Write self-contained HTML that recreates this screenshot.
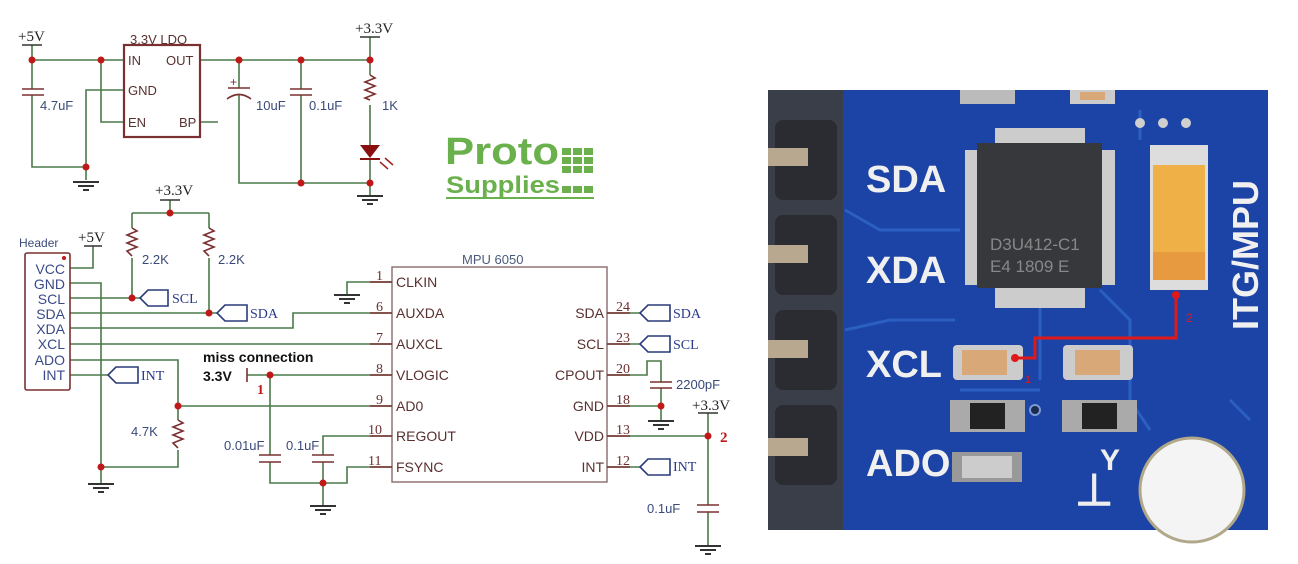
<!DOCTYPE html>
<html><head><meta charset="utf-8"><style>
html,body{margin:0;padding:0;background:#fff;width:1298px;height:564px;overflow:hidden}
svg{display:block}
</style></head><body>
<svg width="1298" height="564" viewBox="0 0 1298 564" xmlns="http://www.w3.org/2000/svg" font-family="Liberation Sans, sans-serif">
<defs>
<g id="gnd"><line x1="-13" y1="0" x2="13" y2="0" stroke="#333" stroke-width="2"/><line x1="-8" y1="4" x2="8" y2="4" stroke="#333" stroke-width="2"/><line x1="-3" y1="8" x2="3" y2="8" stroke="#333" stroke-width="2"/></g>
</defs>
<g fill="none" stroke="#4a7a4a" stroke-width="1.6">
<path d="M32 45V89M32 95V167H86M86 167V180M124 90H86V167M32 60H124M101 60V122H124M200 122H218"/>
<path d="M200 60H370M370 37V75M370 105V145M370 160V195M239 60V88M239 95V183H370M301 60V89M301 95V183"/>
<path d="M93 246V268H70M70 283H101V483M70 298H140M70 313H217M70 328H293V313H392M70 344H392M70 360H178V420M178 450V467H101M70 375H108"/>
<path d="M170 200V213M132 213H209M132 213V228M209 213V228M132 258V298M209 258V313M178 406H392"/>
<path d="M247 375H392M270 375V455M270 462V483H323M392 436H323V455M323 462V505M392 467H347V483H323M392 282H347V294"/>
<path d="M607 313H640M607 344H640M607 467H640M607 375H647V361H661V382M661 388V420M607 406H661M607 436H708M708 413V505M708 512V545"/>
</g>
<g fill="none" stroke="#7a3030" stroke-width="1.6">
<path d="M370 75l5 3-10 4 10 4-10 4 10 4-10 4 5 2"/>
<path d="M132 228l5 3-10 4 10 4-10 4 10 4-10 4 5 5"/>
<path d="M209 228l5 3-10 4 10 4-10 4 10 4-10 4 5 5"/>
<path d="M178 420l5 3-10 4 10 4-10 4 10 4-10 4 5 5"/>
<path d="M22 89H44M22 95H44M290 89H312M290 95H312M228 88H250M227 99Q239 90 251 99M259 455H281M259 462H281M312 455H334M312 462H334M650 382H672M650 388H672M697 505H719M697 512H719"/>
<path d="M247 368V382"/>
<rect x="124" y="45" width="76" height="92" stroke-width="2.2"/>
<rect x="392" y="267" width="215" height="215" stroke="#8a6a6a" stroke-width="1.4"/>
<rect x="25" y="253" width="45" height="137" rx="2" stroke-width="1.6"/>
<path d="M370 282H392M370 313H392M370 344H392M370 375H392M370 406H392M370 436H392M370 467H392M607 313H630M607 344H630M607 375H630M607 406H630M607 436H630M607 467H630"/>
</g>
<g stroke="#333" stroke-width="1.6">
<line x1="22" y1="45" x2="42" y2="45"/><line x1="360" y1="37" x2="380" y2="37"/><line x1="160" y1="200" x2="180" y2="200"/><line x1="84" y1="246" x2="102" y2="246"/><line x1="698" y1="413" x2="718" y2="413"/>
</g>
<text x="230" y="86" font-size="12" fill="#7a3030">+</text>
<polygon points="360,145 380,145 370,158" fill="#8a1010"/>
<line x1="360" y1="159" x2="380" y2="159" stroke="#8a1010" stroke-width="2"/>
<path d="M380 162l8 7M385 158l8 7" stroke="#a02020" stroke-width="1.5"/>
<use href="#gnd" x="86" y="182"/><use href="#gnd" x="370" y="196"/><use href="#gnd" x="101" y="484"/><use href="#gnd" x="347" y="295"/><use href="#gnd" x="323" y="506"/><use href="#gnd" x="661" y="421"/><use href="#gnd" x="708" y="546"/>
<g fill="#fff" stroke="#2a3a7a" stroke-width="1.6">
<path d="M168 290H148L140 298L148 306H168Z"/>
<path d="M247 305H225L217 313L225 321H247Z"/>
<path d="M138 367H116L108 375L116 383H138Z"/>
<path d="M670 305H648L640 313L648 321H670Z"/>
<path d="M670 336H648L640 344L648 352H670Z"/>
<path d="M670 459H648L640 467L648 475H670Z"/>
</g>
<g fill="#c01818">
<circle cx="32" cy="60" r="3.5"/><circle cx="101" cy="60" r="3.5"/><circle cx="239" cy="60" r="3.5"/><circle cx="301" cy="60" r="3.5"/><circle cx="370" cy="60" r="3.5"/><circle cx="86" cy="167" r="3.5"/><circle cx="301" cy="183" r="3.5"/><circle cx="370" cy="183" r="3.5"/>
<circle cx="170" cy="213" r="3.5"/><circle cx="132" cy="298" r="3.5"/><circle cx="209" cy="313" r="3.5"/><circle cx="178" cy="406" r="3.5"/><circle cx="101" cy="467" r="3.5"/><circle cx="270" cy="375" r="3.5"/><circle cx="323" cy="483" r="3.5"/><circle cx="661" cy="406" r="3.5"/><circle cx="708" cy="436" r="3.5"/><circle cx="64" cy="258" r="2"/>
</g>
<g font-family="Liberation Serif, serif" font-size="15" fill="#222">
<text x="18" y="41">+5V</text><text x="355" y="33">+3.3V</text><text x="155" y="195">+3.3V</text><text x="78" y="242">+5V</text><text x="692" y="410">+3.3V</text>
</g>
<g font-size="13" fill="#3a4a7a">
<text x="130" y="44" fill="#5a3030">3.3V LDO</text>
<text x="128" y="65" fill="#5a3030">IN</text><text x="166" y="65" fill="#5a3030">OUT</text><text x="128" y="95" fill="#5a3030">GND</text><text x="128" y="127" fill="#5a3030">EN</text><text x="179" y="127" fill="#5a3030">BP</text>
<text x="40" y="110">4.7uF</text><text x="256" y="110">10uF</text><text x="309" y="110">0.1uF</text><text x="382" y="110">1K</text>
<text x="19" y="247" font-size="12">Header</text>
<text x="142" y="264">2.2K</text><text x="218" y="264">2.2K</text>
<text x="131" y="436">4.7K</text><text x="224" y="450">0.01uF</text><text x="286" y="450">0.1uF</text><text x="676" y="389">2200pF</text><text x="647" y="513">0.1uF</text>
<text x="462" y="264" fill="#4a5a7a">MPU 6050</text>
</g>
<g font-size="14" fill="#3a4a8a" text-anchor="end">
<text x="65" y="274">VCC</text><text x="65" y="289">GND</text><text x="65" y="304">SCL</text><text x="65" y="319">SDA</text><text x="65" y="334">XDA</text><text x="65" y="349">XCL</text><text x="65" y="365">ADO</text><text x="65" y="380">INT</text>
</g>
<g font-family="Liberation Serif, serif" font-size="14" fill="#2a3a8a">
<text x="172" y="303">SCL</text><text x="250" y="318">SDA</text><text x="141" y="380">INT</text><text x="673" y="318">SDA</text><text x="673" y="349">SCL</text><text x="673" y="471">INT</text>
</g>
<g font-size="14" fill="#5a3030">
<text x="396" y="287">CLKIN</text><text x="396" y="318">AUXDA</text><text x="396" y="349">AUXCL</text><text x="396" y="380">VLOGIC</text><text x="396" y="411">AD0</text><text x="396" y="441">REGOUT</text><text x="396" y="472">FSYNC</text>
<g text-anchor="end"><text x="604" y="318">SDA</text><text x="604" y="349">SCL</text><text x="604" y="380">CPOUT</text><text x="604" y="411">GND</text><text x="604" y="441">VDD</text><text x="604" y="472">INT</text></g>
</g>
<g font-family="Liberation Serif, serif" font-size="14" fill="#6a3030">
<text x="376" y="280">1</text><text x="376" y="311">6</text><text x="376" y="342">7</text><text x="376" y="373">8</text><text x="376" y="404">9</text><text x="368" y="434">10</text><text x="368" y="465">11</text>
<text x="616" y="311">24</text><text x="616" y="342">23</text><text x="616" y="373">20</text><text x="616" y="404">18</text><text x="616" y="434">13</text><text x="616" y="465">12</text>
</g>
<text x="203" y="362" font-size="14" font-weight="bold" fill="#111">miss connection</text>
<text x="203" y="381" font-size="14" font-weight="bold" fill="#111">3.3V</text>
<text x="257" y="394" font-family="Liberation Serif, serif" font-size="14" font-weight="bold" fill="#c01818">1</text>
<text x="720" y="442" font-family="Liberation Serif, serif" font-size="15" font-weight="bold" fill="#c01818">2</text>
<!-- logo -->
<text x="445" y="164" font-size="38" font-weight="bold" fill="#6ab04c" textLength="114" lengthAdjust="spacingAndGlyphs">Proto</text>
<text x="446" y="193" font-size="24" font-weight="bold" fill="#6ab04c" textLength="114" lengthAdjust="spacingAndGlyphs">Supplies</text>
<g fill="#6ab04c">
<rect x="562" y="148" width="9" height="7"/><rect x="573" y="148" width="9" height="7"/><rect x="584" y="148" width="9" height="7"/>
<rect x="562" y="157" width="9" height="7"/><rect x="573" y="157" width="9" height="7"/><rect x="584" y="157" width="9" height="7"/>
<rect x="562" y="166" width="9" height="7"/><rect x="573" y="166" width="9" height="7"/><rect x="584" y="166" width="9" height="7"/>
<rect x="562" y="186" width="9" height="7"/><rect x="573" y="186" width="9" height="7"/><rect x="584" y="186" width="9" height="7"/>
<rect x="446" y="197" width="148" height="2"/>
</g>
<!-- photo -->
<rect x="768" y="90" width="500" height="440" fill="#1c44a6"/>
<g fill="none" stroke="#2f66c8" stroke-width="3" opacity="0.8">
<path d="M845 210L880 230H960M845 330L890 320H955M1040 300V380M1100 290L1130 320V400L1150 430M960 390H1040M1230 400L1250 420M1140 110V140"/>
</g>
<rect x="768" y="90" width="75" height="440" fill="#3a3e48"/>
<g fill="#2a2c32"><rect x="775" y="120" width="62" height="80" rx="8"/><rect x="775" y="215" width="62" height="80" rx="8"/><rect x="775" y="310" width="62" height="80" rx="8"/><rect x="775" y="405" width="62" height="80" rx="8"/></g>
<g fill="#b8a890"><rect x="768" y="148" width="40" height="18"/><rect x="768" y="245" width="40" height="18"/><rect x="768" y="340" width="40" height="18"/><rect x="768" y="438" width="40" height="18"/></g>
<rect x="960" y="90" width="55" height="14" fill="#bbb"/><rect x="1070" y="90" width="45" height="14" fill="#ccc"/><rect x="1080" y="92" width="25" height="8" fill="#d8a878"/>
<g font-size="38" font-weight="bold" fill="#f0f0f0"><text x="866" y="192">SDA</text><text x="866" y="283">XDA</text><text x="866" y="377">XCL</text><text x="866" y="476">ADO</text></g>
<rect x="965" y="150" width="20" height="135" fill="#ccc"/><rect x="1095" y="150" width="20" height="135" fill="#ccc"/>
<rect x="995" y="128" width="90" height="180" fill="#ccc"/>
<rect x="977" y="143" width="125" height="145" fill="#36383c"/>
<text x="990" y="250" font-size="17" fill="#888">D3U412-C1</text><text x="990" y="272" font-size="17" fill="#888">E4 1809 E</text>
<g fill="#cfcfcf"><circle cx="1140" cy="123" r="5"/><circle cx="1163" cy="123" r="5"/><circle cx="1186" cy="123" r="5"/></g>
<rect x="1150" y="145" width="58" height="145" fill="#ddd"/>
<rect x="1153" y="165" width="52" height="115" fill="#f0b048"/>
<rect x="1153" y="252" width="52" height="28" fill="#e89a40"/>
<rect x="953" y="345" width="70" height="35" rx="4" fill="#ccc"/><rect x="962" y="350" width="45" height="25" fill="#d8a878"/>
<rect x="1063" y="345" width="70" height="35" rx="4" fill="#ccc"/><rect x="1075" y="350" width="45" height="25" fill="#d8a878"/>
<rect x="950" y="400" width="75" height="32" fill="#aaa"/><rect x="970" y="403" width="35" height="26" fill="#222"/>
<rect x="1062" y="400" width="75" height="32" fill="#aaa"/><rect x="1082" y="403" width="35" height="26" fill="#222"/>
<circle cx="1035" cy="410" r="5" fill="#1a2a50" stroke="#7a9ad0" stroke-width="2"/>
<rect x="952" y="452" width="70" height="30" fill="#999"/><rect x="962" y="456" width="50" height="22" fill="#ccc"/>
<circle cx="1192" cy="490" r="52" fill="#f4f4f4" stroke="#b0a888" stroke-width="3"/>
<text x="1075" y="505" font-size="44" font-weight="bold" fill="#eee">⊥</text><text x="1100" y="470" font-size="30" font-weight="bold" fill="#eee">Y</text>
<text transform="translate(1258,330) rotate(-90)" font-size="36" font-weight="bold" fill="#f0f0f0">ITG/MPU</text>
<path d="M1015 358H1035V338H1176V295" fill="none" stroke="#e01818" stroke-width="3"/>
<circle cx="1015" cy="358" r="4" fill="#e01818"/><circle cx="1176" cy="295" r="4" fill="#e01818"/>
<text x="1025" y="383" font-size="11" fill="#e01818">1</text><text x="1186" y="322" font-size="12" fill="#e01818">2</text>
</svg>
</body></html>
